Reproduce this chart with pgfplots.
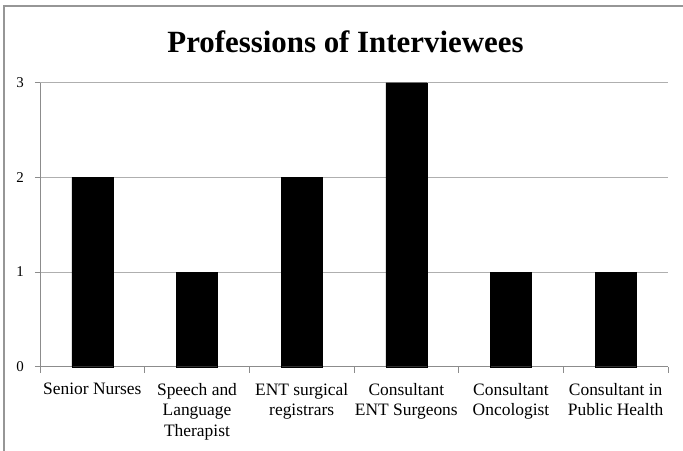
\documentclass[border=0pt]{standalone}
\usepackage{fontspec}
\setmainfont{Liberation Serif}
\usepackage{pgfplots}
\pgfplotsset{compat=1.18}
\definecolor{gridc}{RGB}{175,175,175}
\definecolor{axc}{RGB}{140,140,140}
\definecolor{framec}{RGB}{150,150,150}
\begin{document}
\begin{tikzpicture}
\useasboundingbox (0,0) rectangle (683bp,-451bp);
\draw[framec, line width=1.5bp] (4bp,-451bp) -- (4bp,-6bp) -- (683bp,-6bp);
\node[anchor=base, font=\fontsize{31}{31}\selectfont\bfseries] at (345.5bp,-52bp) {Professions of Interviewees};
\begin{axis}[
  at={(40bp,-366.7bp)}, anchor=south west,
  scale only axis, width=628bp, height=284bp,
  xmin=-0.5, xmax=5.5, ymin=0, ymax=3,
  ybar, bar width=41bp,
  axis x line*=bottom, axis y line*=left,
  axis line style={-, draw=axc, line width=0.8bp},
  xtick={0,...,5},
  xticklabels={Senior Nurses, Speech and\\Language\\Therapist, ENT surgical\\registrars, Consultant\\ENT Surgeons, Consultant\\Oncologist, Consultant in\\Public Health},
  minor xtick={-0.5,0.5,...,5.5},
  ytick={0,1,2,3},
  ymajorgrids, major grid style={draw=gridc, line width=0.8bp},
  tick align=outside,
  x tick style={draw=none},
  minor x tick style={draw=axc, line width=0.8bp},
  minor tick length=6bp,
  y tick style={draw=axc, line width=0.8bp},
  major tick length=5bp,
  xticklabel style={anchor=north, inner sep=0pt, yshift=-11bp, align=center, font=\fontsize{17.5}{20.7}\selectfont},
  yticklabel style={anchor=east, inner sep=0pt, xshift=-11bp, font=\fontsize{15}{15}\selectfont},
  /pgf/number format/assume math mode=true,
  clip=false,
]
\addplot[fill=black, draw=black] coordinates {(0,2) (1,1) (2,2) (3,3) (4,1) (5,1)};
\end{axis}
\end{tikzpicture}
\end{document}
